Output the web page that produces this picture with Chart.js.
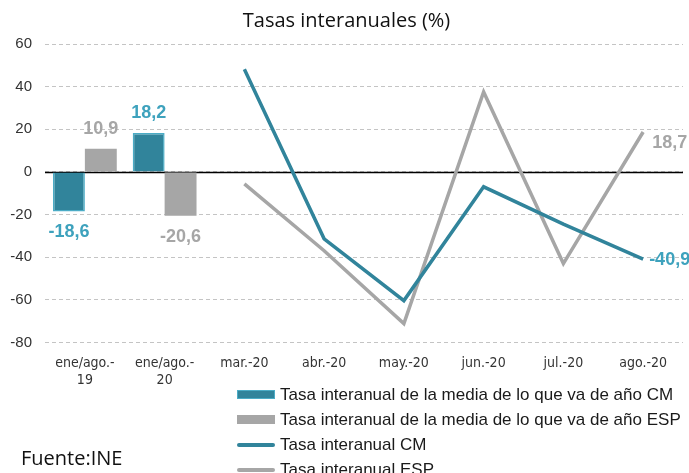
<!DOCTYPE html>
<html>
<head>
<meta charset="utf-8">
<script src="https://cdn.jsdelivr.net/npm/chart.js@4"></script>
<style>
  html, body { margin: 0; padding: 0; background: #fff; }
  #wrap { position: relative; width: 689px; height: 473px; overflow: hidden; }
  #chart { position: absolute; left: 0; top: 0; }
  .legend { position: absolute; left: 237px; top: 382px; font-family: "Liberation Sans", Arial, sans-serif; font-size: 17px; color: #1a1a1a; }
  .legend div { height: 25px; line-height: 25px; display: flex; align-items: center; white-space: nowrap; }
  .sw { display: inline-block; width: 38px; margin-right: 5px; box-sizing: border-box; }
  .box { height: 9px; }
  .ln { height: 4px; border-radius: 2px; }
  .src { position: absolute; left: 21px; top: 444px; font-family: "Open Sans", "Noto Sans", sans-serif; font-size: 20px; color: #111; }
</style>
</head>
<body>
<div id="wrap">
  <canvas id="chart" width="689" height="473"></canvas>
  <div class="legend" id="legend"></div>
  <div class="src">Fuente:INE</div>
</div>
<script>
// Data
const categories = [['ene/ago.-', '19'], ['ene/ago.-', '20'], 'mar.-20', 'abr.-20', 'may.-20', 'jun.-20', 'jul.-20', 'ago.-20'];
const mediaCM  = [-18.6, 18.2, null, null, null, null, null, null];
const mediaESP = [10.9, -20.6, null, null, null, null, null, null];
const tasaCM   = [null, null, 48.2, -31.4, -60.4, -7.0, -24.5, -40.9];
const tasaESP  = [null, null, -5.6, -37.0, -71.2, 37.5, -43.0, 18.7];
const yTicks = [60, 40, 20, 0, -20, -40, -60, -80];

const TEAL = '#31849B';
const TEAL_EDGE = '#4BACC6';
const GREY = '#A6A6A6';
const LABEL_TEAL = '#3EA2BD';
const LABEL_GREY = '#A6A6A6';

const fmt = v => v.toFixed(1).replace('.', ',');

// value labels: bars get every value, lines only their last point
const valueLabels = {
  id: 'valueLabels',
  afterDatasetsDraw(chart) {
    const ctx = chart.ctx;
    ctx.save();
    ctx.font = 'bold 18px "Liberation Sans", Arial, sans-serif';
    ctx.textBaseline = 'middle';
    chart.data.datasets.forEach((ds, i) => {
      const meta = chart.getDatasetMeta(i);
      ctx.fillStyle = ds.labelColor;
      if (ds.type === 'line') {
        let last = -1;
        ds.data.forEach((v, j) => { if (v !== null) last = j; });
        const el = meta.data[last];
        const v = ds.data[last];
        ctx.textAlign = 'left';
        ctx.fillText(fmt(v), el.x + (v > 0 ? 9 : 6), el.y + (v > 0 ? 11 : 1));
      } else {
        ds.data.forEach((v, j) => {
          if (v === null) return;
          const el = meta.data[j];
          ctx.textAlign = 'center';
          ctx.fillText(fmt(v), el.x, v >= 0 ? el.y - 20 : el.y + 21);
        });
      }
    });
    ctx.restore();
  }
};

// solid black zero line over the dashed grid
const zeroLine = {
  id: 'zeroLine',
  beforeDatasetsDraw(chart) {
    const { ctx, chartArea, scales } = chart;
    const y = Math.round(scales.y.getPixelForValue(0)) + 0.5;
    ctx.save();
    ctx.strokeStyle = '#000';
    ctx.lineWidth = 1.5;
    ctx.beginPath();
    ctx.moveTo(chartArea.left, y);
    ctx.lineTo(chartArea.right, y);
    ctx.stroke();
    ctx.restore();
  }
};

const chart = new Chart(document.getElementById('chart').getContext('2d'), {
  type: 'bar',
  data: {
    labels: categories,
    datasets: [
      { label: 'Tasa interanual de la media de lo que va de año CM', data: mediaCM, backgroundColor: TEAL, borderColor: TEAL_EDGE, borderWidth: 1.5, labelColor: LABEL_TEAL, order: 3 },
      { label: 'Tasa interanual de la media de lo que va de año ESP', data: mediaESP, backgroundColor: GREY, borderColor: GREY, borderWidth: 0, labelColor: LABEL_GREY, order: 4 },
      { type: 'line', label: 'Tasa interanual CM', data: tasaCM, borderColor: TEAL, borderWidth: 3.5, pointRadius: 0, tension: 0, labelColor: LABEL_TEAL, order: 1 },
      { type: 'line', label: 'Tasa interanual ESP', data: tasaESP, borderColor: GREY, borderWidth: 3.5, pointRadius: 0, tension: 0, labelColor: LABEL_GREY, order: 2 }
    ]
  },
  options: {
    responsive: false,
    animation: false,
    layout: { padding: { left: 10, right: 6, top: 0, bottom: 71 } },
    datasets: { bar: { categoryPercentage: 0.8, barPercentage: 1.0 } },
    scales: {
      x: {
        grid: { display: false, drawTicks: false },
        border: { display: false },
        ticks: { color: '#333', font: { family: '"Liberation Sans Narrow", "Arial Narrow", "DejaVu Sans Condensed", "Liberation Sans", sans-serif', size: 14, lineHeight: 1.2 }, maxRotation: 0, padding: 13 }
      },
      y: {
        min: -80, max: 60,
        afterBuildTicks: axis => { axis.ticks = yTicks.map(v => ({ value: v })); },
        afterFit: axis => { axis.width = 35; },
        border: { display: false, dash: [4, 3] },
        grid: { color: '#C4C4C4', lineWidth: 1, drawTicks: false },
        ticks: { color: '#333', font: { family: '"Liberation Sans", Arial, sans-serif', size: 15 }, padding: 13 }
      }
    },
    plugins: {
      legend: { display: false },
      tooltip: { enabled: false },
      title: {
        display: true,
        text: 'Tasas interanuales (%)',
        color: '#111',
        font: { family: '"Open Sans", "Noto Sans", sans-serif', size: 20, weight: 'normal', lineHeight: 1.2 },
        padding: { top: 9, bottom: 11 }
      }
    }
  },
  plugins: [zeroLine, valueLabels]
});

// legend built from the datasets
const legend = document.getElementById('legend');
chart.data.datasets.forEach(ds => {
  const row = document.createElement('div');
  const sw = document.createElement('span');
  sw.className = 'sw ' + (ds.type === 'line' ? 'ln' : 'box');
  sw.style.background = ds.type === 'line' ? ds.borderColor : ds.backgroundColor;
  if (ds.type !== 'line' && ds.borderWidth) sw.style.border = '1px solid ' + ds.borderColor;
  row.appendChild(sw);
  row.appendChild(document.createTextNode(ds.label));
  legend.appendChild(row);
});
</script>
</body>
</html>
